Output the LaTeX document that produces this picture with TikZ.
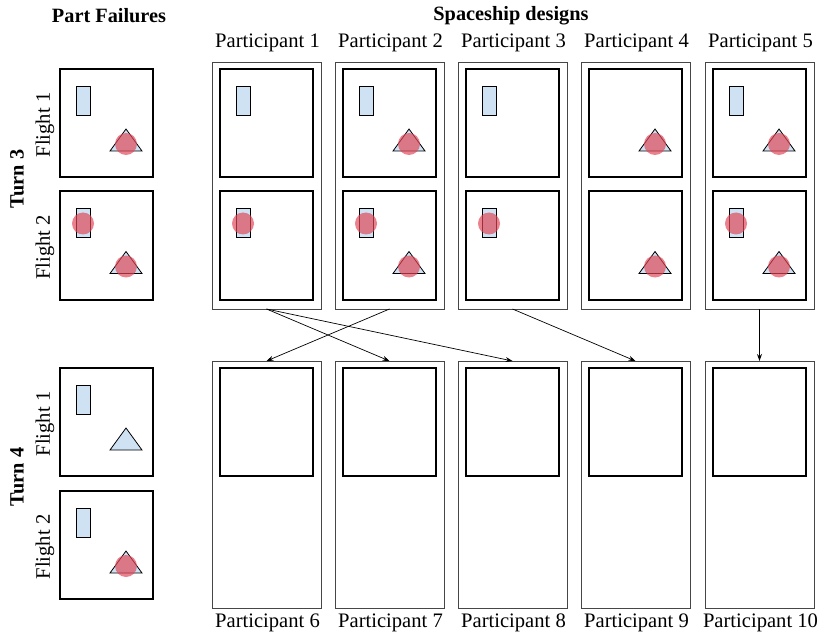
\documentclass[tikz,border=0pt]{standalone}
\usepackage{fontspec}
\setmainfont{Liberation Serif}
\usepackage{tikz}
\usetikzlibrary{arrows.meta, calc}
\definecolor{partblue}{RGB}{207,226,243}
\definecolor{failred}{RGB}{226,70,86}
\definecolor{framegray}{RGB}{70,70,70}
\tikzset{
  shipbox/.style={rectangle, draw=black, line width=2bp,
    minimum width=93bp, minimum height=108bp, inner sep=0pt, outer sep=0pt},
  framebox/.style={rectangle, draw=framegray, line width=0.9bp,
    minimum width=109bp, minimum height=247bp, inner sep=0pt, outer sep=0pt},
  lbl/.style={font=\fontsize{20.6bp}{24bp}\selectfont, inner sep=0pt},
  hdr/.style={font=\fontsize{20.3bp}{24bp}\selectfont\bfseries, inner sep=0pt},
  partline/.style={draw=black, line width=0.8bp, fill=partblue},
  failmark/.style={fill=failred, fill opacity=0.68, draw=none},
  arrow/.style={-{Stealth[length=7bp,width=5bp]}, line width=0.7bp, color=black}
}
\newcommand{\wing}[1]{\draw[partline] ($(#1.north west)+(16,17)$) rectangle ++(14,29);}
\newcommand{\cone}[1]{\draw[partline] ($(#1.north west)+(50,82)$) -- ++(32,0) -- ++(-16,-22) -- cycle;}
\newcommand{\wingfail}[1]{\wing{#1}\fill[failmark] ($(#1.north west)+(23,32)$) circle[radius=11];}
\newcommand{\conefail}[1]{\cone{#1}\fill[failmark] ($(#1.north west)+(66,75)$) circle[radius=11];}

\begin{document}
\begin{tikzpicture}[x=1bp, y=-1bp]
  \useasboundingbox (0,0) rectangle (818,636);
  \node[hdr] (pfhdr) at (109,16) {Part Failures};
  \node[hdr] (sdhdr) at (511,16) {Spaceship designs};
  \node[hdr, rotate=90] (turn3) at (17,179) {Turn 3};
  \node[hdr, rotate=90] (turn4) at (17,477) {Turn 4};

  \node[shipbox] (f3a) at (106.5,123) {};
  \node[shipbox] (f3b) at (106.5,245.5) {};
  \node[shipbox] (f4a) at (106.5,422) {};
  \node[shipbox] (f4b) at (106.5,545) {};
  \node[lbl, rotate=90] at (45,125) {Flight 1};
  \node[lbl, rotate=90] at (45,247.5) {Flight 2};
  \node[lbl, rotate=90] at (45,424) {Flight 1};
  \node[lbl, rotate=90] at (45,547) {Flight 2};

  \foreach \i/\x in {1/266.5, 2/389.5, 3/512.5, 4/635.5, 5/759.5} {
    \node[framebox] (p\i) at (\x,185.5) {};
    \node[shipbox] (p\i-a) at (\x,123) {};
    \node[shipbox] (p\i-b) at (\x,245.5) {};
    \node[lbl] (n\i) at (\x+1,43) {Participant \i};
  }
  \foreach \i/\x in {6/266.5, 7/389.5, 8/512.5, 9/635.5, 10/759.5} {
    \node[framebox] (p\i) at (\x,484.5) {};
    \node[shipbox] (p\i-a) at (\x,422) {};
    \node[lbl] (n\i) at (\x+1,623) {Participant \i};
  }

  \wing{f3a} \conefail{f3a}
  \wingfail{f3b} \conefail{f3b}
  \wing{f4a} \cone{f4a}
  \wing{f4b} \conefail{f4b}

  \wing{p1-a}
  \wingfail{p1-b}
  \wing{p2-a} \conefail{p2-a}
  \wingfail{p2-b} \conefail{p2-b}
  \wing{p3-a}
  \wingfail{p3-b}
  \conefail{p4-a}
  \conefail{p4-b}
  \wing{p5-a} \conefail{p5-a}
  \wingfail{p5-b} \conefail{p5-b}

  \draw[arrow] (p1.south) -- (p7.north);
  \draw[arrow] (p1.south) -- (p8.north);
  \draw[arrow] (p2.south) -- (p6.north);
  \draw[arrow] (p3.south) -- (p9.north);
  \draw[arrow, line width=1.2bp] (p5.south) -- (p10.north);
\end{tikzpicture}
\end{document}
